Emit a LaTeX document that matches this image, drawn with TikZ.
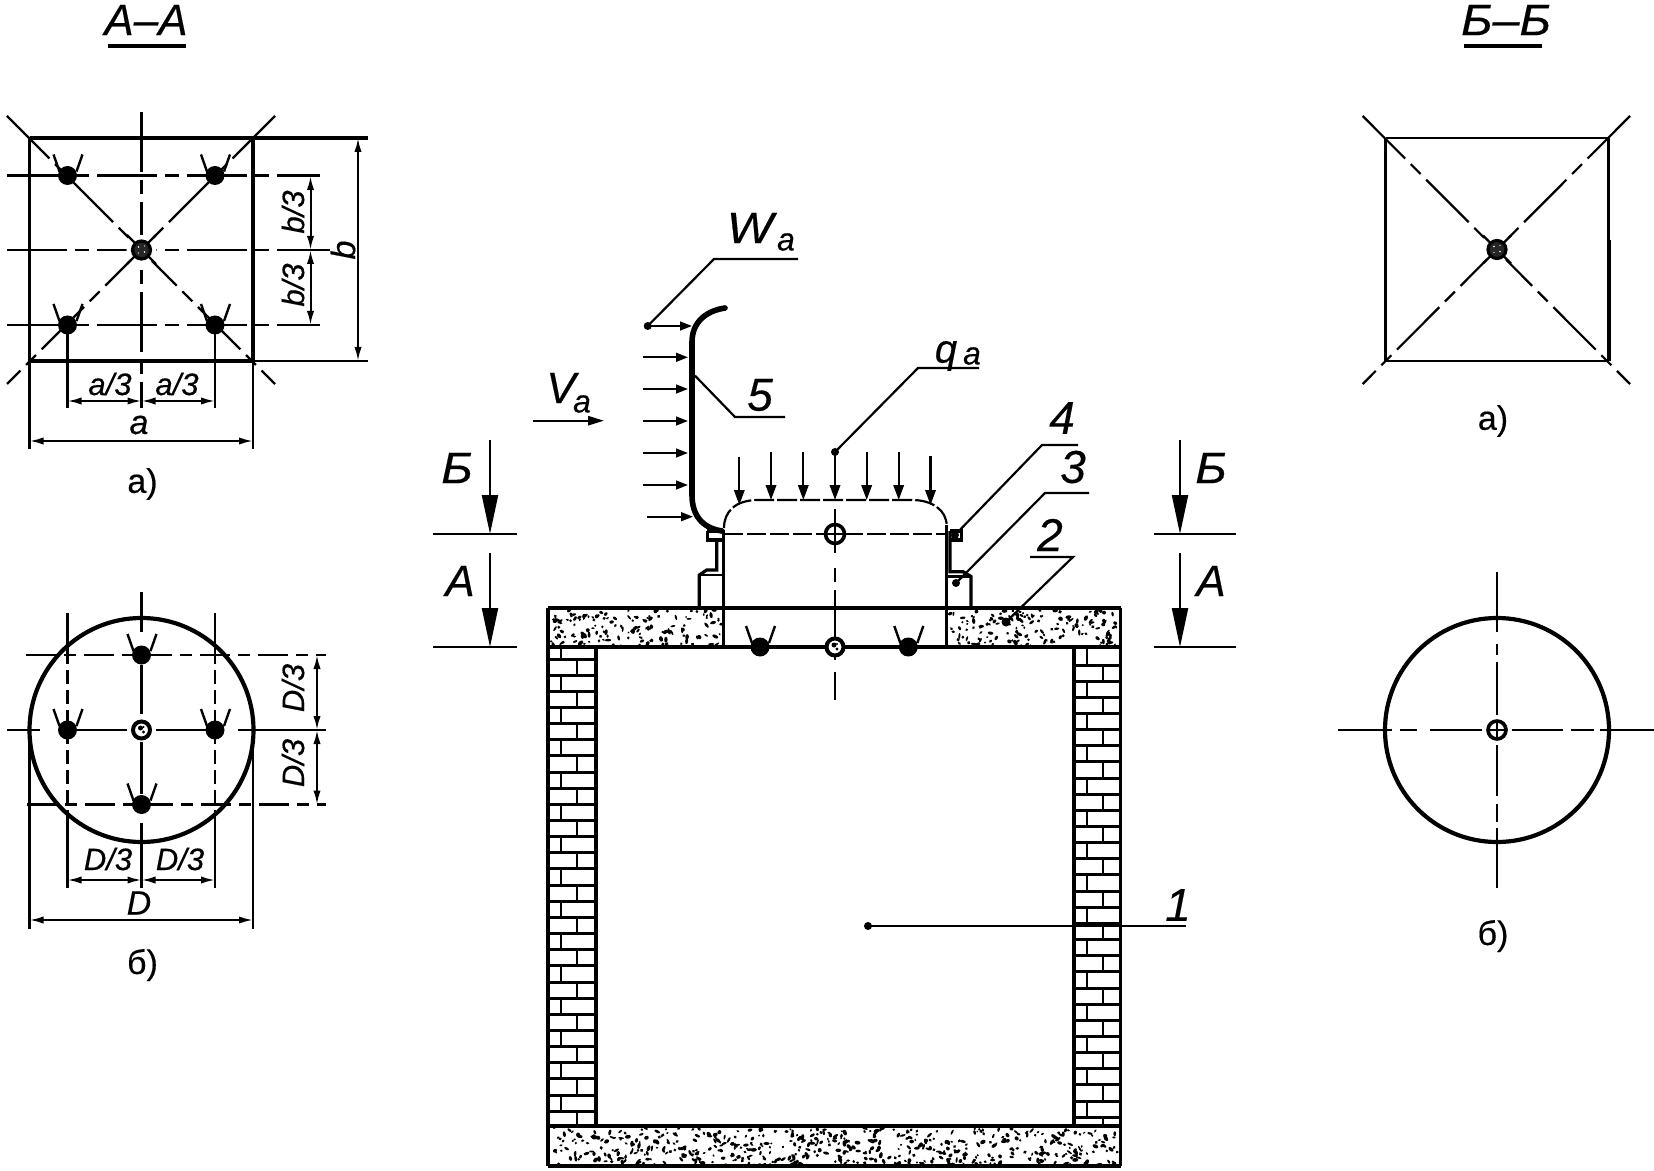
\documentclass[tikz,border=0pt]{standalone}
\usepackage{fontspec}
\setmainfont{Liberation Sans}[FakeBold=0.35]
\usetikzlibrary{arrows.meta,calc}
\newcommand{\lfs}[1]{\fontsize{#1}{#1}\selectfont}
\tikzset{
  lthin/.style={line width=1.15pt},
  lmid/.style={line width=1.6pt},
  lheavy/.style={line width=2.1pt},
  centerln/.style={line width=1.1pt,dash pattern=on 30pt off 4pt on 7pt off 4pt},
  shortln/.style={line width=1.1pt,dash pattern=on 15pt off 4pt on 6pt off 4pt},
  dimln/.style={line width=1pt,{Latex[length=7pt,width=3.6pt]}-{Latex[length=7pt,width=3.6pt]}},
  sectarrow/.style={line width=1.1pt,-{Triangle[length=19.5pt,width=8pt]}},
  loadarrow/.style={line width=1.1pt,-{Triangle[length=7.5pt,width=5.2pt]}},
  windarrow/.style={line width=1.1pt,-{Triangle[length=6pt,width=4.4pt]}},
  leaderln/.style={line width=1.1pt},
  dimtxt/.style={inner sep=0pt,font=\lfs{15.5}\itshape},
  captxt/.style={inner sep=0pt,font=\lfs{17}},
  bigtxt/.style={inner sep=0pt,font=\lfs{22}\itshape},
  numtxt/.style={inner sep=0pt,font=\lfs{23}\itshape},
  subtxt/.style={inner sep=0pt,font=\lfs{16}\itshape},
}
\newcommand{\boltmark}[2]{%
  \fill (#1,#2) circle [radius=9.5];
  \draw[line width=1.2pt] ($(#1,#2)+(-14,-21)$) -- ($(#1,#2)+(-8,-4)$);
  \draw[line width=1.2pt] ($(#1,#2)+(15,-21)$) -- ($(#1,#2)+(9,-4)$);
}
\newcommand{\ringmark}[2]{%
  \draw[line width=2pt,fill=white] (#1,#2) circle [radius=8.5];
  \fill (#1-1,#2-2) circle [radius=2.5];
  \fill (#1+2,#2+2) circle [radius=1.6];
  \fill (#1+2,#2-3) circle [radius=1.2];
}
\newcommand{\darkmark}[2]{%
  \draw[line width=1.6pt,fill=black!85] (#1,#2) circle [radius=9];
  \fill[white] (#1-3,#2-3) circle [radius=.9] (#1+3,#2+2) circle [radius=.9] (#1+3,#2-4) circle [radius=.7] (#1-3,#2+3) circle [radius=.7];
}
\newcommand{\crossmark}[3]{%
  \draw[line width=1.8pt,fill=white] (#1,#2) circle [radius=#3];
  \draw[line width=1.1pt] (#1-#3,#2) -- (#1+#3,#2) (#1,#2-#3) -- (#1,#2+#3);
}
\newcommand{\speckle}[5]{%
  \foreach \k in {1,...,#5}{%
    \pgfmathsetmacro{\sx}{#1+rnd*#3}%
    \pgfmathsetmacro{\sy}{#2+rnd*#4}%
    \pgfmathsetmacro{\ra}{1.0+2.2*rnd}%
    \pgfmathsetmacro{\rb}{0.9+1.1*rnd}%
    \pgfmathsetmacro{\an}{rnd*180}%
    \fill[rotate around={\an:(\sx,\sy)}] (\sx,\sy) ellipse [x radius=\ra,y radius=\rb];
  }%
}
\begin{document}
\begin{tikzpicture}[x=0.5pt,y=-0.5pt]
\fill[white] (0,0) rectangle (1654,1171);
\useasboundingbox (0,0) rectangle (1654,1171);

%% ---------- A-A, square
\node[bigtxt] (tAA) at (146,20) {А–А};
\draw[lmid] (108,46) -- (186,46);
\draw[centerln] (7,116) -- (275,384);
\draw[centerln] (275,116) -- (7,384);
\draw[centerln] (141.5,112) -- (141.5,408);
\draw[centerln] (7,175.5) -- (320,175.5);
\draw[centerln] (7,250) -- (330,250);
\draw[centerln] (7,325) -- (320,325);
\draw[lmid] (29.5,138) -- (368,138);
\draw[lthin] (29.5,361) -- (368,361);
\draw[lmid] (29.5,361) -- (253,361);
\draw[lmid] (29.5,138) -- (29.5,449);
\draw[lheavy] (253,138) -- (253,361);
\draw[lthin] (253,361) -- (253,449);
\draw[lmid] (67.5,325) -- (67.5,408);
\draw[lthin] (215,325) -- (215,408);
\boltmark{67.5}{175.5}\boltmark{215}{175.5}\boltmark{67.5}{325}\boltmark{215}{325}
\fill[white] (141.5,250) circle [radius=15];
\draw[line width=1.1pt] (127,235) -- (156,264) (156,235) -- (127,264);
\darkmark{141.5}{250}
\draw[dimln] (67.5,401) -- (141.5,401);
\draw[dimln] (141.5,401) -- (215,401);
\draw[dimln] (29.5,441) -- (253,441);
\draw[dimln] (310.5,176) -- (310.5,250);
\draw[dimln] (310.5,250) -- (310.5,325);
\draw[dimln] (358,138) -- (358,361);
\node[dimtxt] (a31) at (110,384) {a/3};
\node[dimtxt] (a32) at (177,384) {a/3};
\node[dimtxt,font=\lfs{17}\itshape] (aa) at (139,425) {a};
\node[dimtxt,rotate=90] (b31) at (293,212) {b/3};
\node[dimtxt,rotate=90] (b32) at (293,285) {b/3};
\node[dimtxt,rotate=90,font=\lfs{17}\itshape] (bb) at (343,250) {b};
\node[captxt] (capa) at (142.5,484) {а)};

%% ---------- A-A, circle
\draw[lheavy] (141.5,730) circle [radius=112];
\draw[shortln] (26,655) -- (326,655);
\draw[lthin] (7,730) -- (40,730) (75,730) -- (127,730) (156,730) -- (207,730) (238,730) -- (326,730);
\draw[shortln] (27,804.5) -- (326,804.5);
\draw[lmid] (67.5,613) -- (67.5,650) (67.5,815) -- (67.5,888);
\draw[lmid,dash pattern=on 7pt off 3pt] (67.5,650) -- (67.5,815);
\draw[lthin] (215,613) -- (215,650) (215,815) -- (215,888);
\draw[lthin,dash pattern=on 7pt off 3pt] (215,650) -- (215,815);
\draw[lmid] (141.5,592) -- (141.5,632) (141.5,665) -- (141.5,714) (141.5,742) -- (141.5,794) (141.5,823) -- (141.5,888);
\draw[lmid] (29.5,730) -- (29.5,929);
\draw[lthin] (253,730) -- (253,929);
\boltmark{141.5}{655}\boltmark{67.5}{730}\boltmark{215}{730}\boltmark{141.5}{804.5}
\ringmark{141.5}{730}
\draw[dimln] (67.5,880) -- (141.5,880);
\draw[dimln] (141.5,880) -- (215,880);
\draw[dimln] (29.5,920) -- (253,920);
\draw[dimln] (317,655) -- (317,730);
\draw[dimln] (317,730) -- (317,804.5);
\node[dimtxt] (d31) at (108,859) {D/3};
\node[dimtxt] (d32) at (180,859) {D/3};
\node[dimtxt,font=\lfs{17}\itshape] (dd) at (139,903) {D};
\node[dimtxt,rotate=90] (d33) at (293,688) {D/3};
\node[dimtxt,rotate=90] (d34) at (293,763) {D/3};
\node[captxt] (capb) at (142.5,965) {б)};

%% ---------- B-B
\node[bigtxt,xscale=1.1] (tBB) at (1506,20) {Б–Б};
\draw[lmid] (1464,46) -- (1541.5,46);
\draw[centerln] (1362.7,116) -- (1630,384);
\draw[centerln] (1630,116) -- (1362.7,384);
\draw[lthin] (1385.7,138) -- (1608.7,138) (1385.7,361) -- (1608.7,361);
\draw[lmid] (1385.7,138) -- (1385.7,361) (1608.7,138) -- (1608.7,361);
\draw[lheavy] (1609,240) -- (1609,361);
\fill[white] (1497,249.5) circle [radius=14];
\draw[line width=1.1pt] (1483,235.5) -- (1511,263.5) (1511,235.5) -- (1483,263.5);
\darkmark{1497}{249.5}
\node[captxt] (capa2) at (1493,421) {а)};

\draw[lheavy] (1497,730) circle [radius=112];
\draw[lthin] (1338,730) -- (1392,730) (1400,730) -- (1417,730) (1430,730) -- (1482,730);
\draw[lthin] (1512,730) -- (1563,730) (1571,730) -- (1594,730) (1600,730) -- (1654,730);
\draw[lthin] (1497,572) -- (1497,632) (1497,644) -- (1497,655) (1497,662) -- (1497,715);
\draw[lthin] (1497,745) -- (1497,796) (1497,804) -- (1497,822) (1497,828) -- (1497,888);
\crossmark{1497}{730}{9}
\node[captxt] (capb2) at (1493,936) {б)};

%% ---------- main section: concrete
\pgfmathsetseed{11}
\speckle{551}{610}{170}{36}{150}
\speckle{950}{610}{168}{36}{150}
\speckle{551}{1128}{567}{37}{540}

%% slabs
\draw[lheavy] (548,607.7) -- (1120.7,607.7);
\draw[lheavy] (548,647) -- (1120.7,647);
\draw[lheavy] (548,1126) -- (1120.7,1126);
\draw[line width=2.4pt] (548,1166) -- (1120.7,1166);
\draw[lmid] (548,607.7) -- (548,1166);
\draw[lmid] (1120.7,607.7) -- (1120.7,1166);
\draw[line width=2.4pt] (596,647) -- (596,1126);
\draw[line width=2.4pt] (1074,647) -- (1074,1126);

%% bricks, left wall
\foreach \n in {0,...,28}{
  \pgfmathsetmacro{\yy}{659+16.15*\n}
  \draw[line width=1.5pt] (548,\yy) -- (596,\yy);
}
\foreach \n in {-1,...,28}{
  \pgfmathsetmacro{\ya}{max(659+16.15*\n,647)}
  \pgfmathsetmacro{\yb}{min(659+16.15*(\n+1),1126)}
  \pgfmathsetmacro{\jx}{(Mod(\n,2)==0) ? 577 : 561}
  \draw[line width=1pt] (\jx,\ya) -- (\jx,\yb);
}
%% bricks, right wall
\foreach \n in {0,...,28}{
  \pgfmathsetmacro{\yy}{665+16.15*\n}
  \draw[line width=1.5pt] (1074,\yy) -- (1120.7,\yy);
}
\foreach \n in {-1,...,28}{
  \pgfmathsetmacro{\ya}{max(665+16.15*\n,647)}
  \pgfmathsetmacro{\yb}{min(665+16.15*(\n+1),1126)}
  \pgfmathsetmacro{\jx}{(Mod(\n,2)==0) ? 1103 : 1087}
  \draw[line width=1pt] (\jx,\ya) -- (\jx,\yb);
}

%% opening box
\draw[lmid] (723.3,530) -- (723.3,647);
\draw[lmid] (946.7,525) -- (946.7,647);
\draw[line width=1.1pt,dash pattern=on 10pt off 1.5pt]
  (724,528) .. controls (724,512) and (735,500) .. (758,500) -- (912,500) .. controls (932,500) and (946.7,510) .. (946.7,526);
\draw[line width=1.1pt,dash pattern=on 9.5pt off 2pt] (724,534) -- (826,534);
\draw[line width=1.1pt,dash pattern=on 9.5pt off 2pt] (844,534) -- (946,534);

%% center line
\draw[line width=1.1pt] (835,509) -- (835,553) (835,568) -- (835,582) (835,590) -- (835,640) (835,656) -- (835,660) (835,672) -- (835,700);
\crossmark{835}{534}{9.5}
\boltmark{760}{647}\boltmark{908.3}{647}
\ringmark{835}{647}

%% flashing, left
\draw[lmid] (707.3,531) -- (723,531) (707.3,531) -- (707.3,540) -- (723,540);
\draw[lmid] (716.7,540) -- (716.7,570) -- (706.7,570) -- (699.3,575) -- (699.3,607);
\draw[lthin] (699.3,575) -- (723,575);
%% flashing, right
\draw[lmid] (950,531) -- (961.7,531) -- (961.7,540) -- (950,540);
\draw[lmid] (950,531) -- (950,571.7) -- (963,571.7) -- (971,576.5) -- (971,607);
\draw[lthin] (947,576.5) -- (971,576.5);

%% deflector
\draw[line width=2.8pt,line cap=round] (725,308) .. controls (705,311) and (692,323) .. (692,342) -- (692,495) .. controls (692,515) and (702,528) .. (722,531);

%% wind arrows
\draw[windarrow] (648,326) -- (692,326);
\foreach \yy in {357.3,389,421,453,485}{
  \draw[windarrow] (642.7,\yy) -- (688,\yy);
}
\draw[windarrow] (647,516.7) -- (693,516.7);

%% load arrows
\draw[loadarrow] (739.3,456.7) -- (739.3,505);
\foreach \xx in {771,803.3,835,866.7,898.7}{
  \draw[loadarrow] (\xx,452) -- (\xx,500);
}
\draw[loadarrow] (930.5,456) -- (930.5,505);

%% section marks
\draw[sectarrow] (490,440) -- (490,534);
\draw[sectarrow] (490,553) -- (490,647);
\draw[sectarrow] (1180,440) -- (1180,534);
\draw[sectarrow] (1180,553) -- (1180,647);
\draw[lthin] (433,534) -- (517,534) (433,647) -- (517,647);
\draw[lthin] (1154,534) -- (1236,534) (1154,647) -- (1236,647);
\node[bigtxt,xscale=1.1] (sb1) at (457,468) {Б};
\node[bigtxt] (sa1) at (460,581) {А};
\node[bigtxt,xscale=1.1] (sb2) at (1211,468) {Б};
\node[bigtxt] (sa2) at (1211,581) {А};

%% Va
\node[bigtxt] (va) at (561,388) {V};
\node[subtxt] (vasub) at (582,404) {a};
\draw[line width=1.1pt,-{Triangle[length=8pt,width=4.6pt]}] (533,420.7) -- (604,420.7);

%% leaders
\fill (647.7,326) circle [radius=4];
\draw[leaderln] (647.7,326) -- (714,259) -- (798,259);
\node[bigtxt,xscale=1.12] (wa) at (750,228) {W};
\node[subtxt] (wasub) at (786,242) {a};

\draw[leaderln] (695,375.7) -- (735,417) -- (785,417);
\node[numtxt] (n5) at (760,395) {5};

\fill (835,452) circle [radius=4];
\draw[leaderln] (835,452) -- (918,368) -- (979,368);
\node[bigtxt,font=\lfs{20}\itshape] (qa) at (946,356) {q};
\node[subtxt] (qasub) at (972,356) {a};

\fill (955,535) circle [radius=4];
\draw[leaderln] (955,535) -- (1042,445) -- (1078,445);
\node[numtxt] (n4) at (1062,418) {4};

\fill (956,583) circle [radius=4];
\draw[leaderln] (956,583) -- (1045,493) -- (1089,493);
\node[numtxt] (n3) at (1073,467) {3};

\fill (1006,622) circle [radius=4.5];
\draw[leaderln] (1006,622) -- (1073,557) -- (1030,557);
\node[numtxt] (n2) at (1050,535) {2};

\fill (868,926) circle [radius=4];
\draw[line width=1.2pt] (868,926) -- (1186,926);
\node[numtxt] (n1) at (1178,905) {1};
\end{tikzpicture}
\end{document}
